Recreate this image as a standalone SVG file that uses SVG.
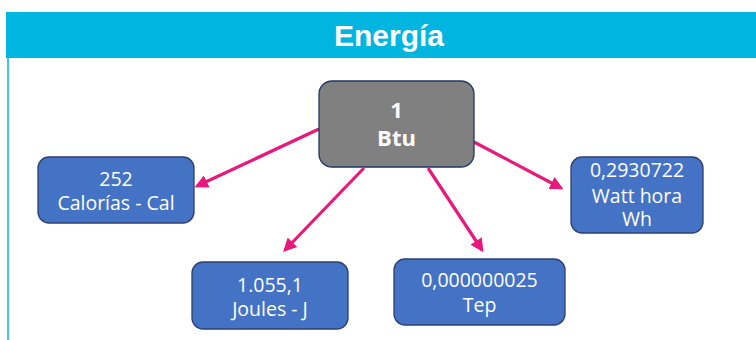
<svg xmlns="http://www.w3.org/2000/svg" width="756" height="340" viewBox="0 0 756 340">
<style>
.hdr{fill:#00b5e0}
.t{font-family:"Open Sans","Noto Sans",sans-serif;fill:#fff;text-anchor:middle}
.nb{fill:#4472c4;stroke:#2f3f6e;stroke-width:1.3}
.ng{fill:#808080;stroke:#1f3864;stroke-width:1.3}
.c{stroke:#e8197c;stroke-width:3.2;fill:none;marker-end:url(#ah)}
</style>
<defs>
<marker id="ah" viewBox="0 0 10 10" refX="8" refY="5" markerWidth="4.2" markerHeight="4.2" orient="auto" markerUnits="strokeWidth">
<path d="M0,0 L10,5 L0,10 z" fill="#e8197c"/>
</marker>
</defs>
<rect width="756" height="340" fill="#fff"/>
<g id="header">
<rect class="hdr" x="6" y="12" width="750" height="46"/>
<line x1="8" y1="58" x2="8" y2="340" stroke="#00b5e0" stroke-width="1.5"/>
<text x="389" y="46" font-family="'Liberation Sans',Arial,sans-serif" font-weight="bold" font-size="30" fill="#fff" text-anchor="middle">Energía</text>
</g>
<g id="connectors">
<line class="c" x1="319" y1="129" x2="197" y2="186"/>
<line class="c" x1="364" y1="168" x2="285" y2="250"/>
<line class="c" x1="428" y1="168" x2="482" y2="250"/>
<line class="c" x1="474" y1="142" x2="561" y2="188"/>
</g>
<g id="btu">
<rect class="ng" x="319" y="81" width="155" height="86" rx="13"/>
<text class="t" x="396.5" y="118" font-size="22" font-weight="bold">1</text>
<text class="t" x="396.5" y="146" font-size="22" font-weight="bold">Btu</text>
</g>
<g id="cal">
<rect class="nb" x="38" y="157" width="156" height="66" rx="11"/>
<text class="t" x="116" y="186" font-size="19.5">252</text>
<text class="t" x="116" y="210" font-size="19.5">Calorías - Cal</text>
</g>
<g id="joules">
<rect class="nb" x="192" y="262" width="156" height="67" rx="11"/>
<text class="t" x="270" y="292" font-size="19.5">1.055,1</text>
<text class="t" x="270" y="316" font-size="19.5">Joules - J</text>
</g>
<g id="tep">
<rect class="nb" x="394" y="259" width="171" height="66" rx="11"/>
<text class="t" x="479.5" y="287" font-size="19.5">0,000000025</text>
<text class="t" x="479.5" y="312" font-size="19.5">Tep</text>
</g>
<g id="wh">
<rect class="nb" x="571" y="157" width="132" height="76" rx="11"/>
<text class="t" x="637" y="177" font-size="19.5">0,2930722</text>
<text class="t" x="637" y="203" font-size="19.5">Watt hora</text>
<text class="t" x="637" y="226" font-size="19.5">Wh</text>
</g>
</svg>
